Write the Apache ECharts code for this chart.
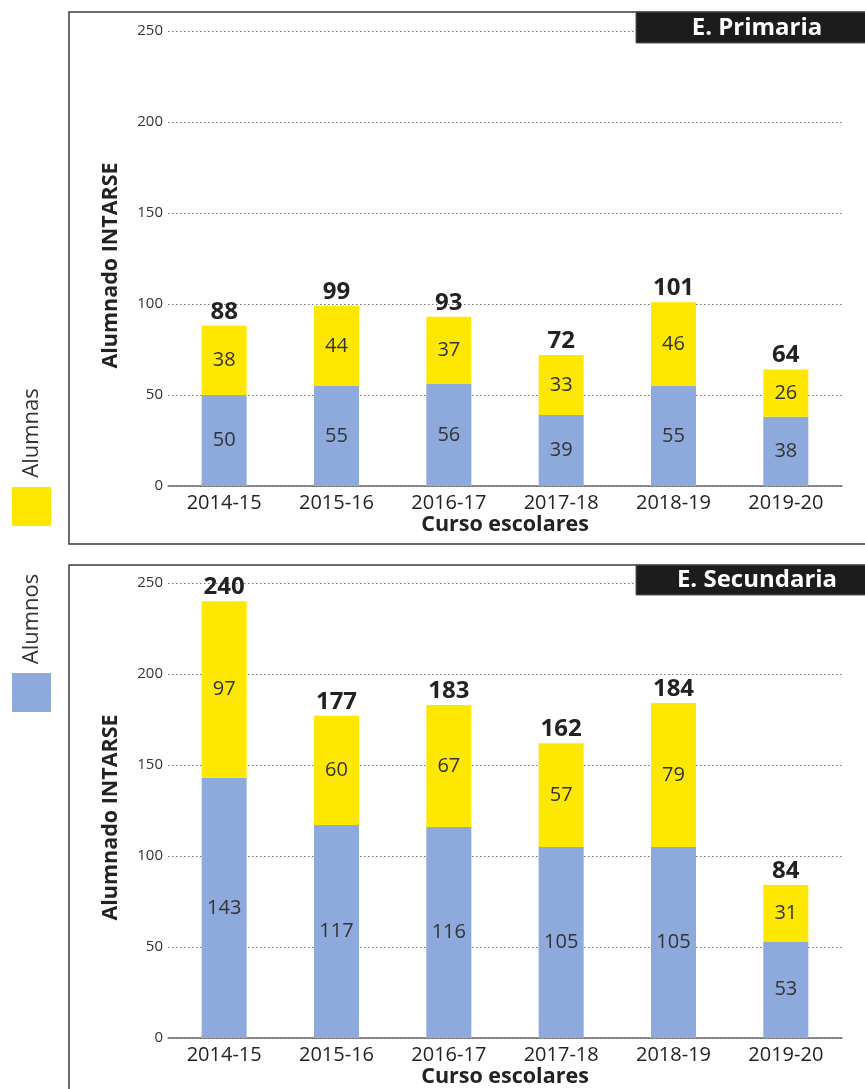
<!DOCTYPE html>
<html>
<head>
<meta charset="utf-8">
<script src="https://cdn.jsdelivr.net/npm/echarts@6/dist/echarts.min.js"></script>
<style>
html,body{margin:0;padding:0;background:#fff;}
#c{width:865px;height:1089px;}
</style>
</head>
<body>
<div id="c"></div>
<script>
const categories = ['2014-15','2015-16','2016-17','2017-18','2018-19','2019-20'];
const primAlumnos = [50, 55, 56, 39, 55, 38];
const primAlumnas = [38, 44, 37, 33, 46, 26];
const secAlumnos = [143, 117, 116, 105, 105, 53];
const secAlumnas = [97, 60, 67, 57, 79, 31];
const yTicks = [0, 50, 100, 150, 200, 250];
const panelTitles = ['E. Primaria', 'E. Secundaria'];
const legendNames = ['Alumnas', 'Alumnos'];

const BLUE = '#8EA9DB', YELLOW = '#FFE800';
const FONT = '"Open Sans", "Noto Sans", sans-serif';

const primTotal = primAlumnos.map((v, i) => v + primAlumnas[i]);
const secTotal = secAlumnos.map((v, i) => v + secAlumnas[i]);

const chart = echarts.init(document.getElementById('c'));

function xAxis(gi) {
  return {
    type: 'category', gridIndex: gi, data: categories,
    axisLine: {show: true, lineStyle: {color: '#6b6b6b', width: 1.5}},
    axisTick: {show: false},
    axisLabel: {color: '#222', fontSize: 20, fontFamily: FONT, margin: 7},
    name: 'Curso escolares', nameLocation: 'middle', nameGap: 28,
    nameTextStyle: {color: '#222', fontSize: 21.5, fontWeight: 'bold', fontFamily: FONT, verticalAlign: 'top'}
  };
}
function yAxis(gi) {
  return {
    type: 'value', gridIndex: gi, min: yTicks[0], max: yTicks[yTicks.length - 1], interval: 50,
    axisLine: {show: false}, axisTick: {show: false},
    axisLabel: {color: '#333', fontSize: 15, fontFamily: FONT, margin: 5},
    splitLine: {show: true, lineStyle: {color: '#777', type: [1.5, 2.5], width: 1}},
    name: 'Alumnado INTARSE', nameLocation: 'middle', nameGap: 46,
    nameTextStyle: {color: '#222', fontSize: 21.5, fontWeight: 'bold', fontFamily: FONT, padding: [0, 14, 0, 0]}
  };
}
function barSeries(name, data, color, gi, stack) {
  return {
    name, type: 'bar', xAxisIndex: gi, yAxisIndex: gi, stack, data,
    barWidth: 45, itemStyle: {color},
    label: {show: true, position: 'inside', color: '#333', fontSize: 20, fontFamily: FONT}
  };
}
function totalSeries(totals, gi, stack) {
  return {
    name: 'Total', type: 'bar', xAxisIndex: gi, yAxisIndex: gi, stack,
    data: totals.map(() => 0), barWidth: 45,
    itemStyle: {color: 'rgba(0,0,0,0)'},
    label: {show: true, position: 'top', distance: 2, color: '#222', fontSize: 24,
      fontWeight: 'bold', fontFamily: FONT, formatter: p => totals[p.dataIndex]}
  };
}

const option = {
  animation: false,
  grid: [
    {left: 168, right: 23, top: 31, bottom: 603, containLabel: false},
    {left: 168, right: 23, top: 583, bottom: 51, containLabel: false}
  ],
  xAxis: [xAxis(0), xAxis(1)],
  yAxis: [yAxis(0), yAxis(1)],
  series: [
    barSeries('Alumnos', primAlumnos, BLUE, 0, 'p'),
    barSeries('Alumnas', primAlumnas, YELLOW, 0, 'p'),
    totalSeries(primTotal, 0, 'p'),
    barSeries('Alumnos', secAlumnos, BLUE, 1, 's'),
    barSeries('Alumnas', secAlumnas, YELLOW, 1, 's'),
    totalSeries(secTotal, 1, 's')
  ],
  graphic: [
    {type: 'rect', shape: {x: 69, y: 12, width: 830, height: 532}, style: {fill: 'none', stroke: '#3c3c3c', lineWidth: 1.5}, z: -1},
    {type: 'rect', shape: {x: 69, y: 565, width: 830, height: 600}, style: {fill: 'none', stroke: '#3c3c3c', lineWidth: 1.5}, z: -1},
    {type: 'rect', shape: {x: 636, y: 12, width: 240, height: 31}, style: {fill: '#1c1c1c', stroke: '#555', lineWidth: 1}, z: 10},
    {type: 'text', x: 757, y: 28, z: 11, style: {text: panelTitles[0], fill: '#fff', font: 'bold 24px ' + FONT, textAlign: 'center', textVerticalAlign: 'middle'}},
    {type: 'rect', shape: {x: 636, y: 565, width: 240, height: 30}, style: {fill: '#1c1c1c', stroke: '#555', lineWidth: 1}, z: 10},
    {type: 'text', x: 757, y: 580, z: 11, style: {text: panelTitles[1], fill: '#fff', font: 'bold 24px ' + FONT, textAlign: 'center', textVerticalAlign: 'middle'}},
    {type: 'rect', shape: {x: 12, y: 487, width: 39, height: 39}, style: {fill: YELLOW}},
    {type: 'text', x: 32, y: 433, rotation: Math.PI / 2, style: {text: legendNames[0], fill: '#333', font: '22px ' + FONT, textAlign: 'center', textVerticalAlign: 'middle'}},
    {type: 'rect', shape: {x: 12, y: 673, width: 39, height: 39}, style: {fill: BLUE}},
    {type: 'text', x: 32, y: 619, rotation: Math.PI / 2, style: {text: legendNames[1], fill: '#333', font: '22px ' + FONT, textAlign: 'center', textVerticalAlign: 'middle'}}
  ]
};
chart.setOption(option);
</script>
</body>
</html>
